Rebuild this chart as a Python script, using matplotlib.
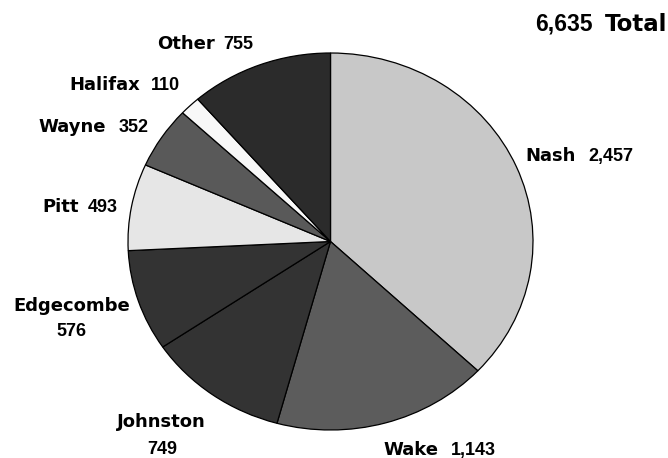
import matplotlib
matplotlib.use("Agg")
import matplotlib.pyplot as plt

# County counts, clockwise from 12 o'clock
counties = ["Nash", "Wake", "Johnston", "Edgecombe", "Pitt", "Wayne", "Halifax", "Other"]
counts = [2457, 1143, 749, 576, 493, 352, 110, 755]
shades = ["#c8c8c8", "#5c5c5c", "#333333", "#333333", "#e6e6e6", "#595959", "#f8f8f8", "#2b2b2b"]

# Label placement in pixels: (x, baseline y from top, horizontal alignment)
name_pos = {
    "Nash": (525, 161, "left"),
    "Wake": (383, 455, "left"),
    "Johnston": (161, 427, "center"),
    "Edgecombe": (71.5, 311, "center"),
    "Pitt": (42, 212, "left"),
    "Wayne": (38, 132, "left"),
    "Halifax": (69, 90, "left"),
    "Other": (157, 49, "left"),
}
value_pos = {
    "Nash": (588, 161, "left"),
    "Wake": (451, 455, "left"),
    "Johnston": (162, 454, "center"),
    "Edgecombe": (71.5, 336, "center"),
    "Pitt": (88, 212, "left"),
    "Wayne": (119, 132, "left"),
    "Halifax": (151, 90, "left"),
    "Other": (223, 49, "left"),
}

W, H = 668, 458
WORD_FONT = ["DejaVu Sans"]
NUM_FONT = ["Liberation Sans", "DejaVu Sans"]

fig = plt.figure(figsize=(W / 100, H / 100), dpi=100)
fig.patch.set_facecolor("white")

# pie bounding box in pixels: x 128..533, y 53..430
ax = fig.add_axes([128 / W, (H - 430) / H, 405 / W, 377 / H])
wedges, _ = ax.pie(
    counts,
    colors=shades,
    startangle=90,
    counterclock=False,
    wedgeprops=dict(edgecolor="black", linewidth=0.9),
)
for w in wedges:
    w.set_clip_on(False)
ax.set_aspect("auto")
ax.set_xlim(-1, 1)
ax.set_ylim(-1, 1)
ax.axis("off")


def put(px, py, s, ha, family, size):
    fig.text(px / W, 1 - py / H, s, ha=ha, va="baseline",
             family=family, fontsize=size, fontweight="bold")


for name, val in zip(counties, counts):
    nx, ny, nha = name_pos[name]
    vx, vy, vha = value_pos[name]
    put(nx, ny, name, nha, WORD_FONT, 13)
    put(vx, vy, f"{val:,}", vha, NUM_FONT, 13)

total = sum(counts)
put(535, 31, f"{total:,}", "left", NUM_FONT, 16.5)
put(667, 31, "Total", "right", WORD_FONT, 16.5)

fig.savefig("out.png", dpi=100, facecolor="white")
